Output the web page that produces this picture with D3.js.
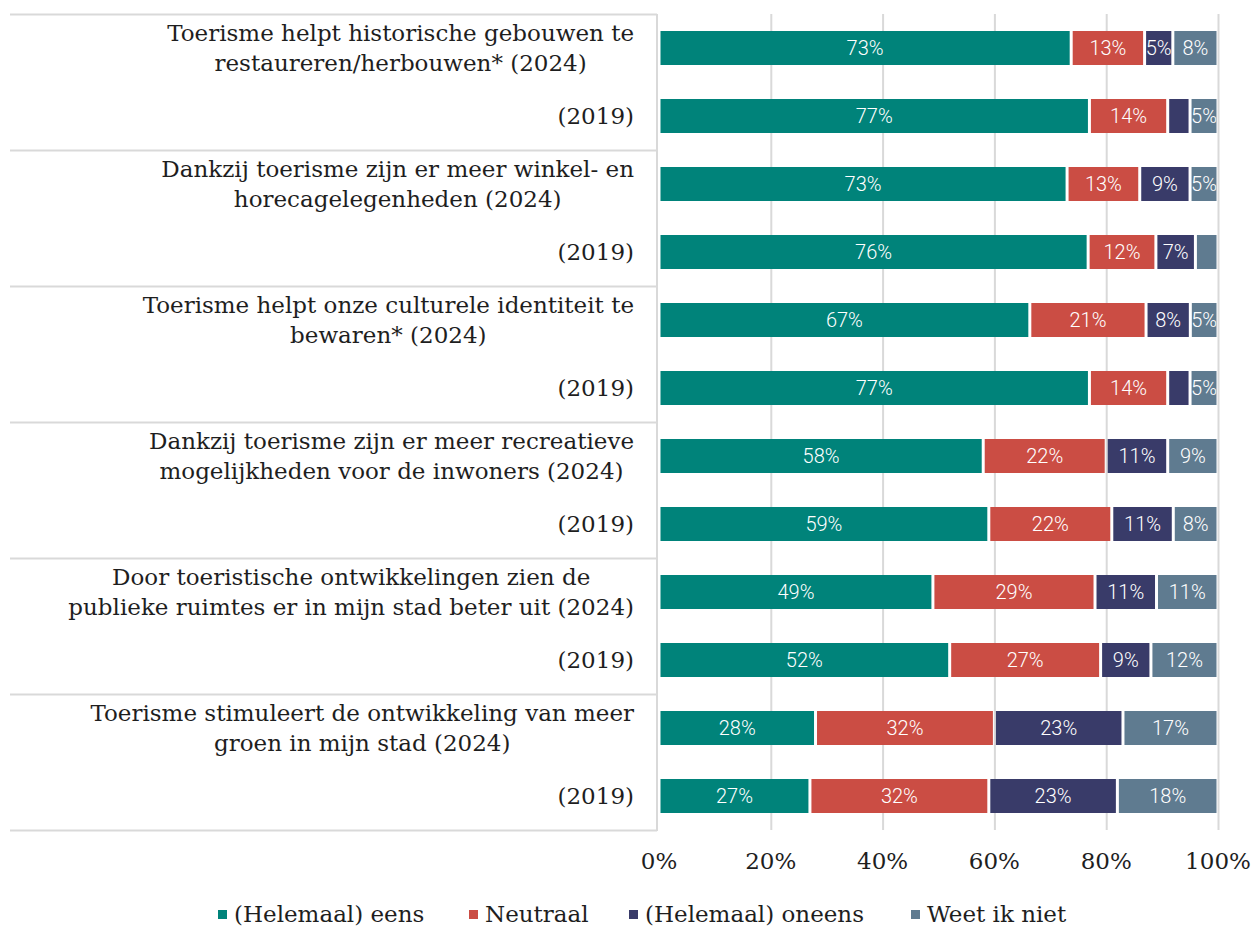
<!DOCTYPE html>
<html>
<head>
<meta charset="utf-8">
<script src="https://cdn.jsdelivr.net/npm/d3@7"></script>
<style>
  body { margin: 0; background: #fff; }
  svg { display: block; }
</style>
</head>
<body>
<div id="chart"></div>
<script>
var width = 1253, height = 927;

// row labels (each row is a list of lines)
var rowLabels = [
  ["Toerisme helpt historische gebouwen te", "restaureren/herbouwen* (2024)"],
  ["(2019)"],
  ["Dankzij toerisme zijn er meer winkel- en", "horecagelegenheden (2024)"],
  ["(2019)"],
  ["Toerisme helpt onze culturele identiteit te", "bewaren* (2024)"],
  ["(2019)"],
  ["Dankzij toerisme zijn er meer recreatieve", "mogelijkheden voor de inwoners  (2024)"],
  ["(2019)"],
  ["Door toeristische ontwikkelingen zien de", "publieke ruimtes er in mijn stad beter uit (2024)"],
  ["(2019)"],
  ["Toerisme stimuleert de ontwikkeling van meer", "groen in mijn stad (2024)"],
  ["(2019)"]
];

var seriesNames = ["(Helemaal) eens", "Neutraal", "(Helemaal) oneens", "Weet ik niet"];
var seriesColors = ["#00837a", "#cb4d44", "#393b69", "#5f7b90"];

var eens   = [73, 77, 73, 76, 67, 77, 58, 59, 49, 52, 28, 27];
var neutr  = [13, 14, 13, 12, 21, 14, 22, 22, 29, 27, 32, 32];
var oneens = [5, 4, 9, 7, 8, 4, 11, 11, 11, 9, 23, 23];
var weetniet = [8, 5, 5, 4, 5, 5, 9, 8, 11, 12, 17, 18];

var tickValues = [0, 0.2, 0.4, 0.6, 0.8, 1];

var table = rowLabels.map(function(l, i) {
  return { id: i, s0: eens[i], s1: neutr[i], s2: oneens[i], s3: weetniet[i] };
});

var keys = ["s0", "s1", "s2", "s3"];
var stacked = d3.stack().keys(keys).offset(d3.stackOffsetExpand)(table);

var x = d3.scaleLinear().domain([0, 1]).range([659, 1218]);
var y = d3.scaleBand().domain(d3.range(rowLabels.length)).range([14, 830])
  .paddingInner(0.5).paddingOuter(0.25);

var svg = d3.select('#chart').append('svg')
  .attr('width', width)
  .attr('height', height);

var serif = "'DejaVu Serif', serif";
var textColor = '#1e1e1e';

// vertical gridlines
svg.append('g').selectAll('line')
  .data(tickValues.slice(1))
  .enter().append('line')
  .attr('x1', function(d) { return x(d) + 0.5 })
  .attr('x2', function(d) { return x(d) + 0.5 })
  .attr('y1', 14).attr('y2', 830)
  .attr('stroke', '#d9d9d9')
  .attr('stroke-width', 2);

// category separators (every two rows)
function sepY(d) {
  return d < rowLabels.length ? y(d) - y.step() * y.paddingInner() / 2 + 0.5 : 830.5;
}
svg.append('g').selectAll('line')
  .data(d3.range(0, rowLabels.length + 1, 2))
  .enter().append('line')
  .attr('x1', 10).attr('x2', 657)
  .attr('y1', sepY)
  .attr('y2', sepY)
  .attr('stroke', '#d9d9d9')
  .attr('stroke-width', 2);

svg.append('line')
  .attr('x1', 657).attr('x2', 657)
  .attr('y1', 14).attr('y2', 831)
  .attr('stroke', '#d9d9d9')
  .attr('stroke-width', 2);

var defs = svg.append('defs');

var layers = svg.selectAll('.layer')
  .data(stacked)
  .enter().append('g')
  .attr('class', 'layer')
  .attr('fill', function(d, i) { return seriesColors[i] });

var segs = layers.selectAll('g.seg')
  .data(function(d) {
    return d.map(function(p) { return { k: d.key, s: d.index, p: p } });
  })
  .enter().append('g')
  .attr('class', 'seg');

function segX(d) { return x(d.p[0]) + 1.5 }
function segW(d) { return Math.max(0, x(d.p[1]) - x(d.p[0]) - 3) }

segs.each(function(d) {
  var id = 'clip-' + d.s + '-' + d.p.data.id;
  defs.append('clipPath').attr('id', id)
    .append('rect')
    .attr('x', segX(d)).attr('y', y(d.p.data.id))
    .attr('width', segW(d)).attr('height', y.bandwidth());
  d.clip = id;
});

segs.append('rect')
  .attr('x', segX)
  .attr('y', function(d) { return y(d.p.data.id) })
  .attr('width', segW)
  .attr('height', y.bandwidth());

// labels hidden for the small (<5) segments, clipped to their segment
segs.filter(function(d) { return d.p.data[d.k] >= 5 })
  .append('text')
  .attr('clip-path', function(d) { return 'url(#' + d.clip + ')' })
  .attr('x', function(d) { return (x(d.p[0]) + x(d.p[1])) / 2 })
  .attr('y', function(d) { return y(d.p.data.id) + y.bandwidth() / 2 })
  .attr('dy', '.36em')
  .attr('text-anchor', 'middle')
  .attr('fill', '#fff')
  .style('font-family', 'Roboto, sans-serif')
  .style('font-weight', 300)
  .style('font-size', '20px')
  .text(function(d) { return d.p.data[d.k] + '%' });

// row labels: block right aligned, lines centred inside the block
var labelG = svg.append('g')
  .style('font-family', serif)
  .style('font-size', '23px')
  .attr('fill', textColor);

rowLabels.forEach(function(lines, i) {
  var g = labelG.append('g');
  var lineH = 30;
  var cy = y(i) + y.bandwidth() / 2;
  var texts = lines.map(function(l, j) {
    return g.append('text')
      .attr('y', cy + (j - (lines.length - 1) / 2) * lineH)
      .attr('dy', '.35em')
      .attr('text-anchor', 'middle')
      .text(l);
  });
  var maxW = d3.max(texts, function(t) { return t.node().getComputedTextLength() });
  texts.forEach(function(t) { t.attr('x', 634 - maxW / 2) });
});

// x axis labels
svg.append('g').selectAll('text')
  .data(tickValues)
  .enter().append('text')
  .attr('x', function(d) { return x(d) })
  .attr('y', 861)
  .attr('dy', '.35em')
  .attr('text-anchor', 'middle')
  .style('font-family', serif)
  .style('font-size', '23px')
  .attr('fill', textColor)
  .text(d3.format('.0%'));

// legend
var legend = svg.append('g')
  .style('font-family', serif)
  .style('font-size', '23px');

var legendX = [218, 469, 629, 911];
seriesNames.forEach(function(name, i) {
  var g = legend.append('g').attr('transform', 'translate(' + legendX[i] + ',914)');
  g.append('rect').attr('x', 0).attr('y', -4).attr('width', 9).attr('height', 9)
    .attr('fill', seriesColors[i]);
  g.append('text').attr('x', 16).attr('dy', '.35em').attr('fill', textColor).text(name);
});
</script>
</body>
</html>
